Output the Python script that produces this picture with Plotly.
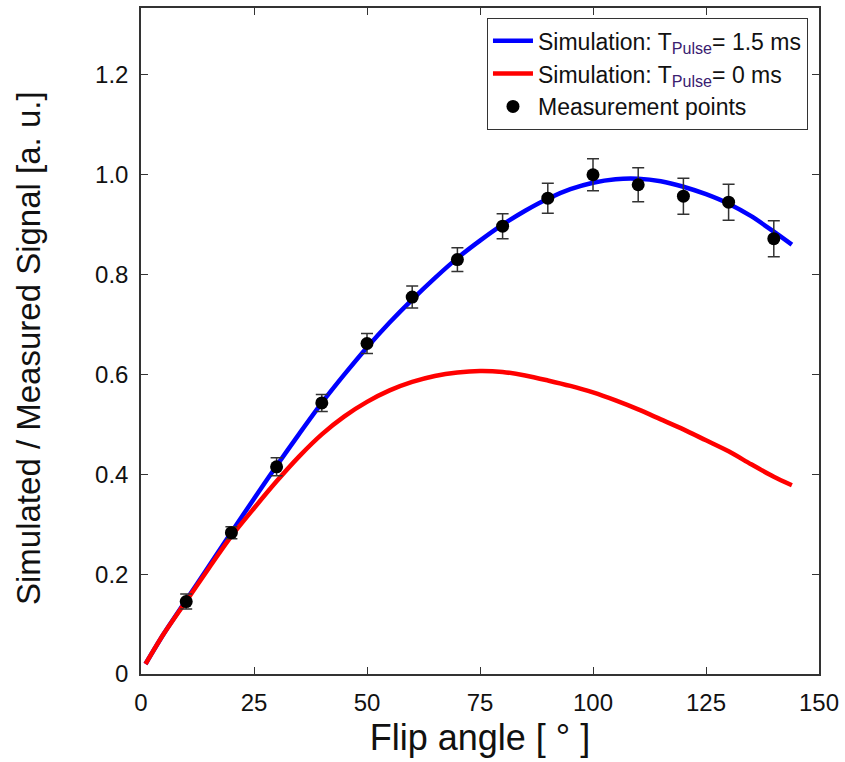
import plotly.graph_objects as go

# Simulation curves
sim_angle = [1, 5, 10, 15, 20, 25, 30, 35, 40, 45, 50, 55, 60, 65, 70, 75, 80, 85,
             90, 95, 100, 105, 110, 115, 120, 125, 130, 135, 140, 144]
sim_15ms = [0.02, 0.08, 0.148, 0.216, 0.284, 0.351, 0.417, 0.481, 0.543, 0.6, 0.654,
            0.704, 0.75, 0.793, 0.833, 0.868, 0.9, 0.928, 0.952, 0.971, 0.984, 0.991,
            0.992, 0.987, 0.976, 0.961, 0.942, 0.917, 0.886, 0.86]
sim_0ms = [0.02, 0.08, 0.146, 0.212, 0.276, 0.332, 0.386, 0.436, 0.48, 0.516, 0.545,
           0.568, 0.585, 0.597, 0.604, 0.607, 0.605, 0.598, 0.588, 0.577, 0.564, 0.548,
           0.53, 0.51, 0.49, 0.468, 0.446, 0.42, 0.395, 0.378]

# Measurements
meas_angle = [10, 20, 30, 40, 50, 60, 70, 80, 90, 100, 110, 120, 130, 140]
meas_signal = [0.145, 0.283, 0.415, 0.543, 0.662, 0.755, 0.83, 0.897, 0.953, 1.0,
               0.98, 0.957, 0.945, 0.872]
meas_err = [0.015, 0.012, 0.018, 0.017, 0.02, 0.022, 0.024, 0.025, 0.03, 0.032,
            0.034, 0.036, 0.036, 0.036]

y_ticks = [0, 0.2, 0.4, 0.6, 0.8, 1.0, 1.2]
y_ticklabels = ["0", "0.2", "0.4", "0.6", "0.8", "1.0", "1.2"]
x_ticks = [0, 25, 50, 75, 100, 125, 150]

FONT = "Liberation Sans, Arial, sans-serif"
sub = "<span style='color:#3a2070'><sub>Pulse</sub></span>"

fig = go.Figure()
fig.add_trace(go.Scatter(x=sim_angle, y=sim_15ms, mode="lines",
                         line=dict(color="#0000FF", width=4.5, shape="spline", smoothing=0.8),
                         name="Simulation: T" + sub + "= 1.5 ms"))
fig.add_trace(go.Scatter(x=sim_angle, y=sim_0ms, mode="lines",
                         line=dict(color="#FF0000", width=4.5, shape="spline", smoothing=0.8),
                         name="Simulation: T" + sub + "= 0 ms"))
fig.add_trace(go.Scatter(x=meas_angle, y=meas_signal, mode="markers",
                         marker=dict(color="black", size=13),
                         error_y=dict(type="data", array=meas_err, color="#333333",
                                      thickness=1.5, width=6),
                         name="Measurement points"))

axis_common = dict(showline=True, linecolor="#333333", linewidth=1.5, mirror="ticks",
                   ticks="inside", ticklen=7, tickwidth=1.2, tickcolor="#333333",
                   showgrid=False, zeroline=False,
                   tickfont=dict(family=FONT, size=24, color="#111111"))

fig.update_layout(
    width=845, height=762,
    margin=dict(l=141, r=21, t=6, b=88),
    paper_bgcolor="white", plot_bgcolor="white",
    font=dict(family=FONT, color="#111111"),
    xaxis=dict(range=[0, 150], tickvals=x_ticks,
               title=dict(text="Flip angle [ ° ]", font=dict(family=FONT, size=36), standoff=10),
               ticklabelstandoff=6, **axis_common),
    yaxis=dict(range=[0, 1.334], tickvals=y_ticks, ticktext=y_ticklabels,
               ticklabelstandoff=6, **axis_common),
    legend=dict(x=0.51, y=0.985, xanchor="left", yanchor="top",
                bgcolor="white", bordercolor="#333333", borderwidth=1.2,
                font=dict(family=FONT, size=23, color="#111111"),
                tracegroupgap=0, itemwidth=40),
    showlegend=True,
    annotations=[dict(text="Simulated / Measured Signal [a. u.]", textangle=-90,
                      xref="paper", yref="paper", x=0, y=0.5,
                      xanchor="center", yanchor="middle",
                      xshift=-113, yshift=-7, showarrow=False,
                      font=dict(family=FONT, size=33, color="#111111"))],
)

fig.write_html("out.html")
